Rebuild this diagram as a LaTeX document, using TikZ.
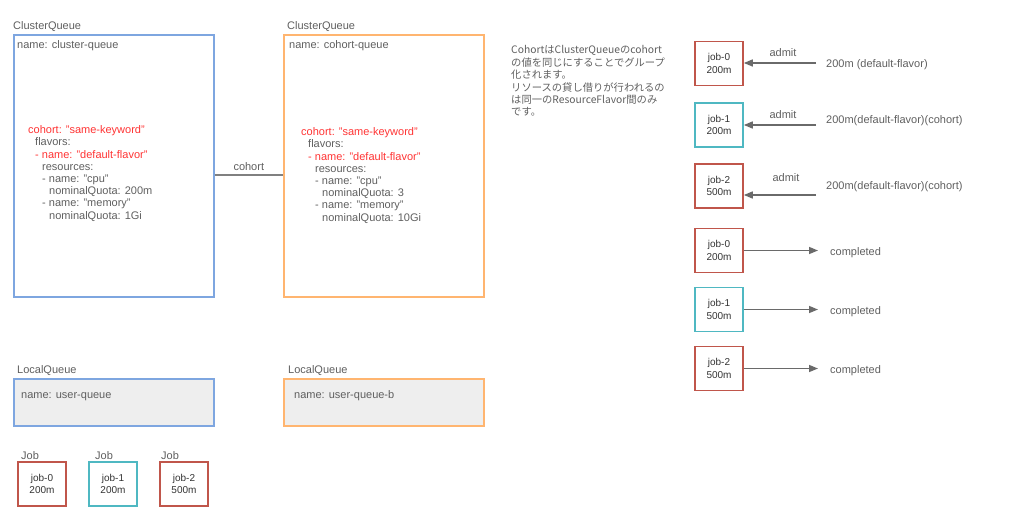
\documentclass[tikz,border=0pt]{standalone}
\usepackage{fontspec}
\setmainfont{Liberation Sans}
\newfontfamily\jpfont{Noto Sans CJK JP}
\usetikzlibrary{arrows.meta}
\definecolor{qblue}{HTML}{7EA6E0}
\definecolor{qorange}{HTML}{FFB570}
\definecolor{jred}{HTML}{C0564B}
\definecolor{jteal}{HTML}{4FB8C2}
\definecolor{txtgray}{HTML}{5F5F5F}
\definecolor{yamlred}{HTML}{FF3333}
\definecolor{lqfill}{HTML}{EEEEEE}
\definecolor{arrowgray}{HTML}{6A6A6A}
\begin{document}
\begin{tikzpicture}[x=1pt,y=-1pt,>={Triangle[length=9pt,width=7pt]},
	every node/.style={font=\fontsize{11}{13}\selectfont,text=txtgray,inner sep=0pt},
	queue/.style={draw=#1,line width=1.6pt,anchor=north west,minimum width=200pt},
	jobbox/.style={draw=#1,line width=1.6pt,minimum width=48pt,minimum height=44pt,
		text=black!80,align=center,font=\fontsize{10}{12.5}\selectfont},
	lbl/.style={anchor=west,text height=10.5pt,text depth=1pt},
	flow/.style={->,draw=arrowgray,line width=1.5pt}]
	\useasboundingbox (0,0) rectangle (1024,521);
	% cluster queues
	\node[lbl] (t1) at (13,25) {ClusterQueue};
	\node[lbl] (t2) at (287,25) {ClusterQueue};
	\node[queue=qblue,minimum height=262pt] (cq1) at (13,34) {};
	\node[queue=qorange,minimum height=262pt] (cq2) at (283,34) {};
	\node[lbl] (n1) at (17,44) {name: cluster-queue};
	\node[lbl] (n2) at (289,44) {name: cohort-queue};
	\foreach \qx/\qy/\cpu/\mem in {28/129/200m/1Gi,301/131/3/10Gi}
	\foreach \dx/\txt/\col [count=\i from 0] in {0/cohort: "same-keyword"/yamlred,
		7/flavors:/txtgray,7/- name: "default-flavor"/yamlred,14/resources:/txtgray,
		14/- name: "cpu"/txtgray,21/nominalQuota: \cpu/txtgray,
		14/- name: "memory"/txtgray,21/nominalQuota: \mem/txtgray}
	\node[lbl,text=\col] at (\qx+\dx,\qy+12.2*\i) {\txt};
	\draw[draw=gray,line width=1.5pt] ([yshift=-9pt]cq1.east) -- node[above=3pt] (co) {cohort} ([yshift=-9pt]cq2.west);
	% note
	\node[anchor=north west,align=left,font=\jpfont\fontsize{10.3}{12.4}\selectfont] (note) at (511,45.5)
		{CohortはClusterQueueのcohort\\の値を同じにすることでグループ\\化されます。\\リソースの貸し借りが行われるの\\は同一のResourceFlavor間のみ\\です。};
	% local queues
	\node[lbl] (lt1) at (17,369) {LocalQueue};
	\node[lbl] (lt2) at (288,369) {LocalQueue};
	\node[queue=qblue,fill=lqfill,minimum height=47pt] (lq1) at (13,378) {};
	\node[queue=qorange,fill=lqfill,minimum height=47pt] (lq2) at (283,378) {};
	\node[lbl] (ln1) at (21,394) {name: user-queue};
	\node[lbl] (ln2) at (294,394) {name: user-queue-b};
	% jobs
	\foreach \x/\tx/\n/\q/\c in {42/21/0/200m/jred,113/95/1/200m/jteal,184/161/2/500m/jred}{
		\node[lbl] (jt\n) at (\tx,455) {Job};
		\node[jobbox=\c] (j\n) at (\x,484) {job-\n\\\q};
	}
	% admitted
	\foreach \y/\ay/\n/\q/\c/\ty/\lx/\ly/\txt in {63.5/63/0/200m/jred/63/783/52/200m (default-flavor),
		125/125/1/200m/jteal/119/783/114/200m(default-flavor)(cohort),
		186/195/2/500m/jred/185/786/177/200m(default-flavor)(cohort)}{
		\node[jobbox=\c] (ja\n) at (719,\y) {job-\n\\\q};
		\coordinate (a\n) at (816,\ay);
		\draw[flow] (a\n) -- (a\n -| ja\n.east);
		\node[lbl,anchor=center] (al\n) at (\lx,\ly) {admit};
		\node[lbl] (at\n) at (826,\ty) {\txt};
	}
	% completed
	\foreach \y/\n/\q/\c in {250.5/0/200m/jred,309.5/1/500m/jteal,368.5/2/500m/jred}{
		\node[jobbox=\c] (jc\n) at (719,\y) {job-\n\\\q};
		\coordinate (c\n) at (818,\y);
		\draw[flow] (jc\n) -- (c\n);
		\node[lbl] (ct\n) at (830,\y) {completed};
	}
\end{tikzpicture}
\end{document}
